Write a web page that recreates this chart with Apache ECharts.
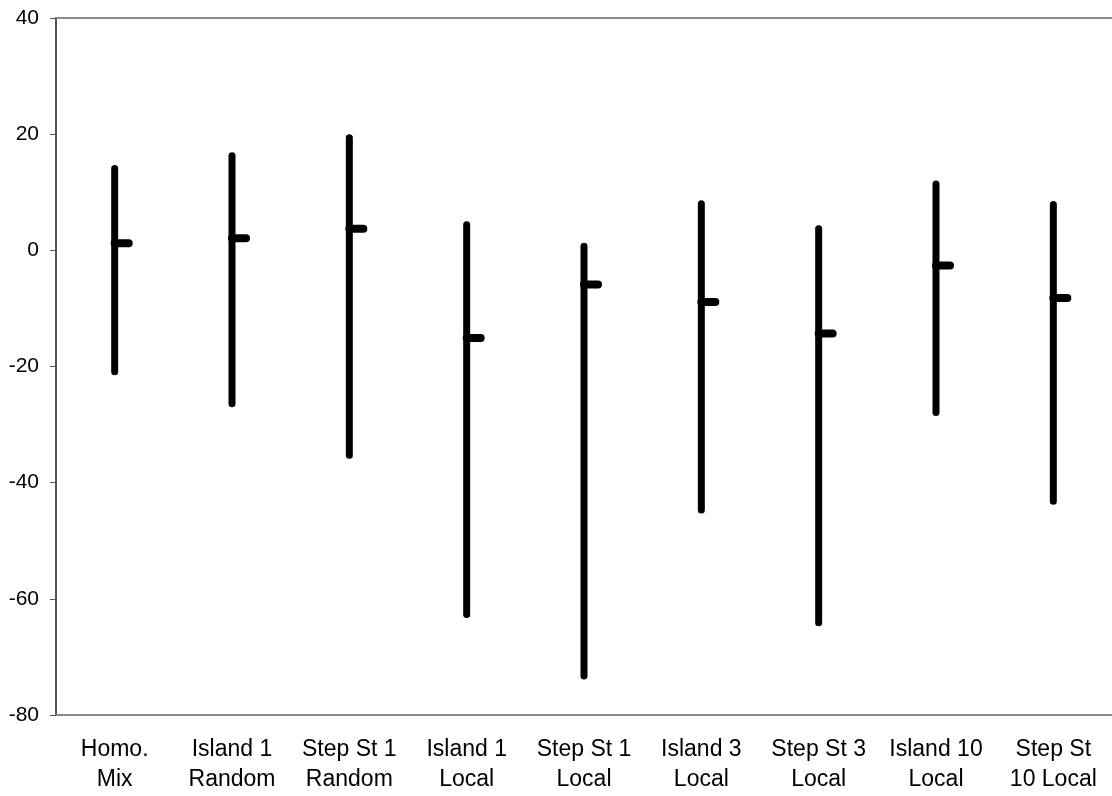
<!DOCTYPE html>
<html>
<head>
<meta charset="utf-8">
<script src="https://cdn.jsdelivr.net/npm/echarts@6/dist/echarts.min.js"></script>
<style>
  html, body { margin: 0; padding: 0; background: #fff; }
  #chart { width: 1112px; height: 796px; }
</style>
</head>
<body>
<div id="chart"></div>
<script>
// Group names (two-line axis labels)
const categories = [
  'Homo.\nMix', 'Island 1\nRandom', 'Step St 1\nRandom', 'Island 1\nLocal',
  'Step St 1\nLocal', 'Island 3\nLocal', 'Step St 3\nLocal', 'Island 10\nLocal',
  'Step St\n10 Local'
];
// High / low / close values for each group
const highs  = [14.1, 16.3, 19.4, 4.4, 0.7, 8.0, 3.7, 11.4, 7.9];
const lows   = [-20.9, -26.4, -35.3, -62.7, -73.3, -44.7, -64.1, -27.9, -43.2];
const closes = [1.2, 2.1, 3.7, -15.1, -5.9, -8.9, -14.3, -2.6, -8.2];
// Value axis ticks
const yMin = -80, yMax = 40, yStep = 20;

const seriesData = categories.map((c, i) => [i, lows[i], highs[i], closes[i]]);

const chart = echarts.init(document.getElementById('chart'), null, { renderer: 'canvas' });

chart.setOption({
  animation: false,
  backgroundColor: '#fff',
  grid: { left: 56, right: -2, top: 18, bottom: 81, containLabel: false },
  xAxis: [
    {
      type: 'category',
      data: categories,
      position: 'bottom',
      axisLine: { show: true, onZero: false, lineStyle: { color: '#888', width: 2 } },
      axisTick: { show: false },
      axisLabel: {
        color: '#000', fontFamily: 'Liberation Sans, Arial, sans-serif',
        fontSize: 23, lineHeight: 30, margin: 20, interval: 0
      },
      splitLine: { show: false }
    },
    {
      type: 'category',
      data: categories,
      position: 'top',
      axisLine: { show: true, onZero: false, lineStyle: { color: '#888', width: 2 } },
      axisTick: { show: false },
      axisLabel: { show: false },
      splitLine: { show: false }
    }
  ],
  yAxis: {
    type: 'value',
    min: yMin, max: yMax, interval: yStep,
    axisLine: { show: true, lineStyle: { color: '#555', width: 2 } },
    axisTick: { show: true, inside: false, length: 6, lineStyle: { color: '#555', width: 1 } },
    axisLabel: {
      color: '#000', fontFamily: 'Liberation Sans, Arial, sans-serif',
      fontSize: 21, margin: 17
    },
    splitLine: { show: false }
  },
  series: [{
    type: 'custom',
    xAxisIndex: 0,
    data: seriesData,
    encode: { x: 0, y: [1, 2, 3] },
    renderItem: function (params, api) {
      const idx = api.value(0);
      const lo = api.coord([idx, api.value(1)]);
      const hi = api.coord([idx, api.value(2)]);
      const cl = api.coord([idx, api.value(3)]);
      return {
        type: 'group',
        children: [
          {
            type: 'line',
            shape: { x1: hi[0], y1: hi[1], x2: lo[0], y2: lo[1] },
            style: { stroke: '#000', lineWidth: 7, lineCap: 'round' }
          },
          {
            type: 'line',
            shape: { x1: cl[0], y1: cl[1], x2: cl[0] + 14, y2: cl[1] },
            style: { stroke: '#000', lineWidth: 8, lineCap: 'round' }
          }
        ]
      };
    }
  }]
});
</script>
</body>
</html>
